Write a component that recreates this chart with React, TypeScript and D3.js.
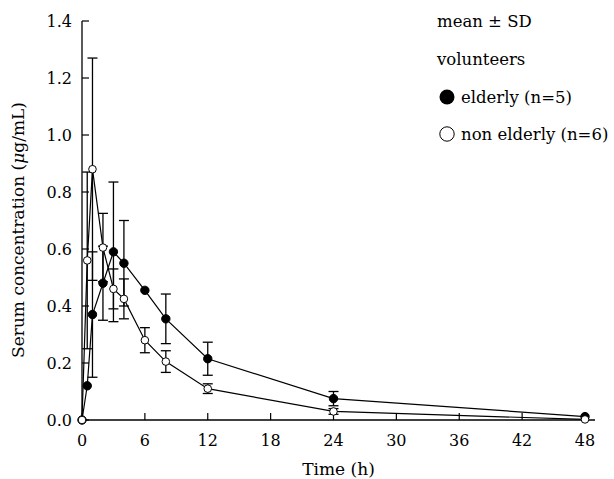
import React from "react";
import * as d3 from "d3";

const times = [0, 0.5, 1, 2, 3, 4, 6, 8, 12, 24, 48];
const elderlyMean = [0, 0.12, 0.37, 0.48, 0.59, 0.55, 0.455, 0.355, 0.215, 0.075, 0.012];
const elderlySD = [0, 0, 0.22, 0.13, 0.245, 0.15, 0, 0.087, 0.058, 0.025, 0];
const nonElderlyMean = [0, 0.56, 0.88, 0.605, 0.46, 0.425, 0.28, 0.205, 0.11, 0.03, 0.002];
const nonElderlySD = [0, 0.31, 0.39, 0.12, 0.07, 0.07, 0.044, 0.038, 0.017, 0.01, 0];
const xTicks = [0, 6, 12, 18, 24, 30, 36, 42, 48];
const yTicks = [0, 0.2, 0.4, 0.6, 0.8, 1.0, 1.2, 1.4];

const FONT = "'DejaVu Serif', serif";

const App = () => {
  const width = 614;
  const height = 479;
  const x = d3.scaleLinear().domain([0, 48]).range([82, 585]);
  const y = d3.scaleLinear().domain([0, 1.4]).range([420, 21]);

  const line = d3.line<[number, number]>()
    .x(d => x(d[0]))
    .y(d => y(d[1]));

  const series = [
    { mean: elderlyMean, sd: elderlySD, filled: true },
    { mean: nonElderlyMean, sd: nonElderlySD, filled: false },
  ];

  return (
    <svg width={width} height={height} style={{ position: "absolute", left: 0, top: 0, background: "#fff" }}>
      {/* axes */}
      <line x1={x(0)} x2={595} y1={y(0)} y2={y(0)} stroke="#000" strokeWidth={1.3} />
      <line x1={x(0)} x2={x(0)} y1={y(0)} y2={y(1.4)} stroke="#000" strokeWidth={1.3} />
      {xTicks.map(t => (
        <g key={"x" + t}>
          <line x1={x(t)} x2={x(t)} y1={y(0)} y2={y(0) - 7} stroke="#000" strokeWidth={1.2} />
          <text x={x(t)} y={446} textAnchor="middle" fontFamily={FONT} fontSize={16}>{t}</text>
        </g>
      ))}
      {yTicks.map(t => (
        <g key={"y" + t}>
          <line x1={x(0)} x2={x(0) + 7} y1={y(t)} y2={y(t)} stroke="#000" strokeWidth={1.2} />
          <text x={72} y={y(t) + 5.5} textAnchor="end" fontFamily={FONT} fontSize={16}>{t.toFixed(1)}</text>
        </g>
      ))}
      <text x={x(24) + 5} y={475} textAnchor="middle" fontFamily={FONT} fontSize={17}>Time (h)</text>
      <text transform={`translate(24,230) rotate(-90)`} textAnchor="middle" fontFamily={FONT} fontSize={17}>
        Serum concentration (<tspan fontStyle="italic">μ</tspan>g/mL)
      </text>

      {/* lines */}
      {series.map((s, i) => (
        <path key={"l" + i} d={line(times.map((t, j) => [t, s.mean[j]]) as [number, number][]) || ""}
          fill="none" stroke="#000" strokeWidth={1.2} />
      ))}

      {/* error bars */}
      {series.map((s, i) => (
        <g key={"e" + i}>
          {times.map((t, j) => s.sd[j] > 0 ? (
            <g key={j}>
              <line x1={x(t)} x2={x(t)} y1={y(s.mean[j] - s.sd[j])} y2={y(s.mean[j] + s.sd[j])} stroke="#000" strokeWidth={1.3} />
              <line x1={x(t) - 5} x2={x(t) + 5} y1={y(s.mean[j] + s.sd[j])} y2={y(s.mean[j] + s.sd[j])} stroke="#000" strokeWidth={1.3} />
              <line x1={x(t) - 5} x2={x(t) + 5} y1={y(s.mean[j] - s.sd[j])} y2={y(s.mean[j] - s.sd[j])} stroke="#000" strokeWidth={1.3} />
            </g>
          ) : null)}
        </g>
      ))}

      {/* markers */}
      {series.map((s, i) => (
        <g key={"m" + i}>
          {times.map((t, j) => (
            <circle key={j} cx={x(t)} cy={y(s.mean[j])} r={s.filled ? 4.2 : 3.8}
              fill={s.filled ? "#000" : "#fff"} stroke="#000" strokeWidth={1} />
          ))}
        </g>
      ))}

      {/* legend */}
      <g fontFamily={FONT} fontSize={16.5}>
        <text x={437} y={27}>mean ± SD</text>
        <text x={437} y={65}>volunteers</text>
        <circle cx={447} cy={97} r={7.5} fill="#000" />
        <text x={461} y={103}>elderly (n=5)</text>
        <circle cx={447} cy={134} r={7.2} fill="#fff" stroke="#000" strokeWidth={1} />
        <text x={461} y={140}>non elderly (n=6)</text>
      </g>
    </svg>
  );
};

export default App;
